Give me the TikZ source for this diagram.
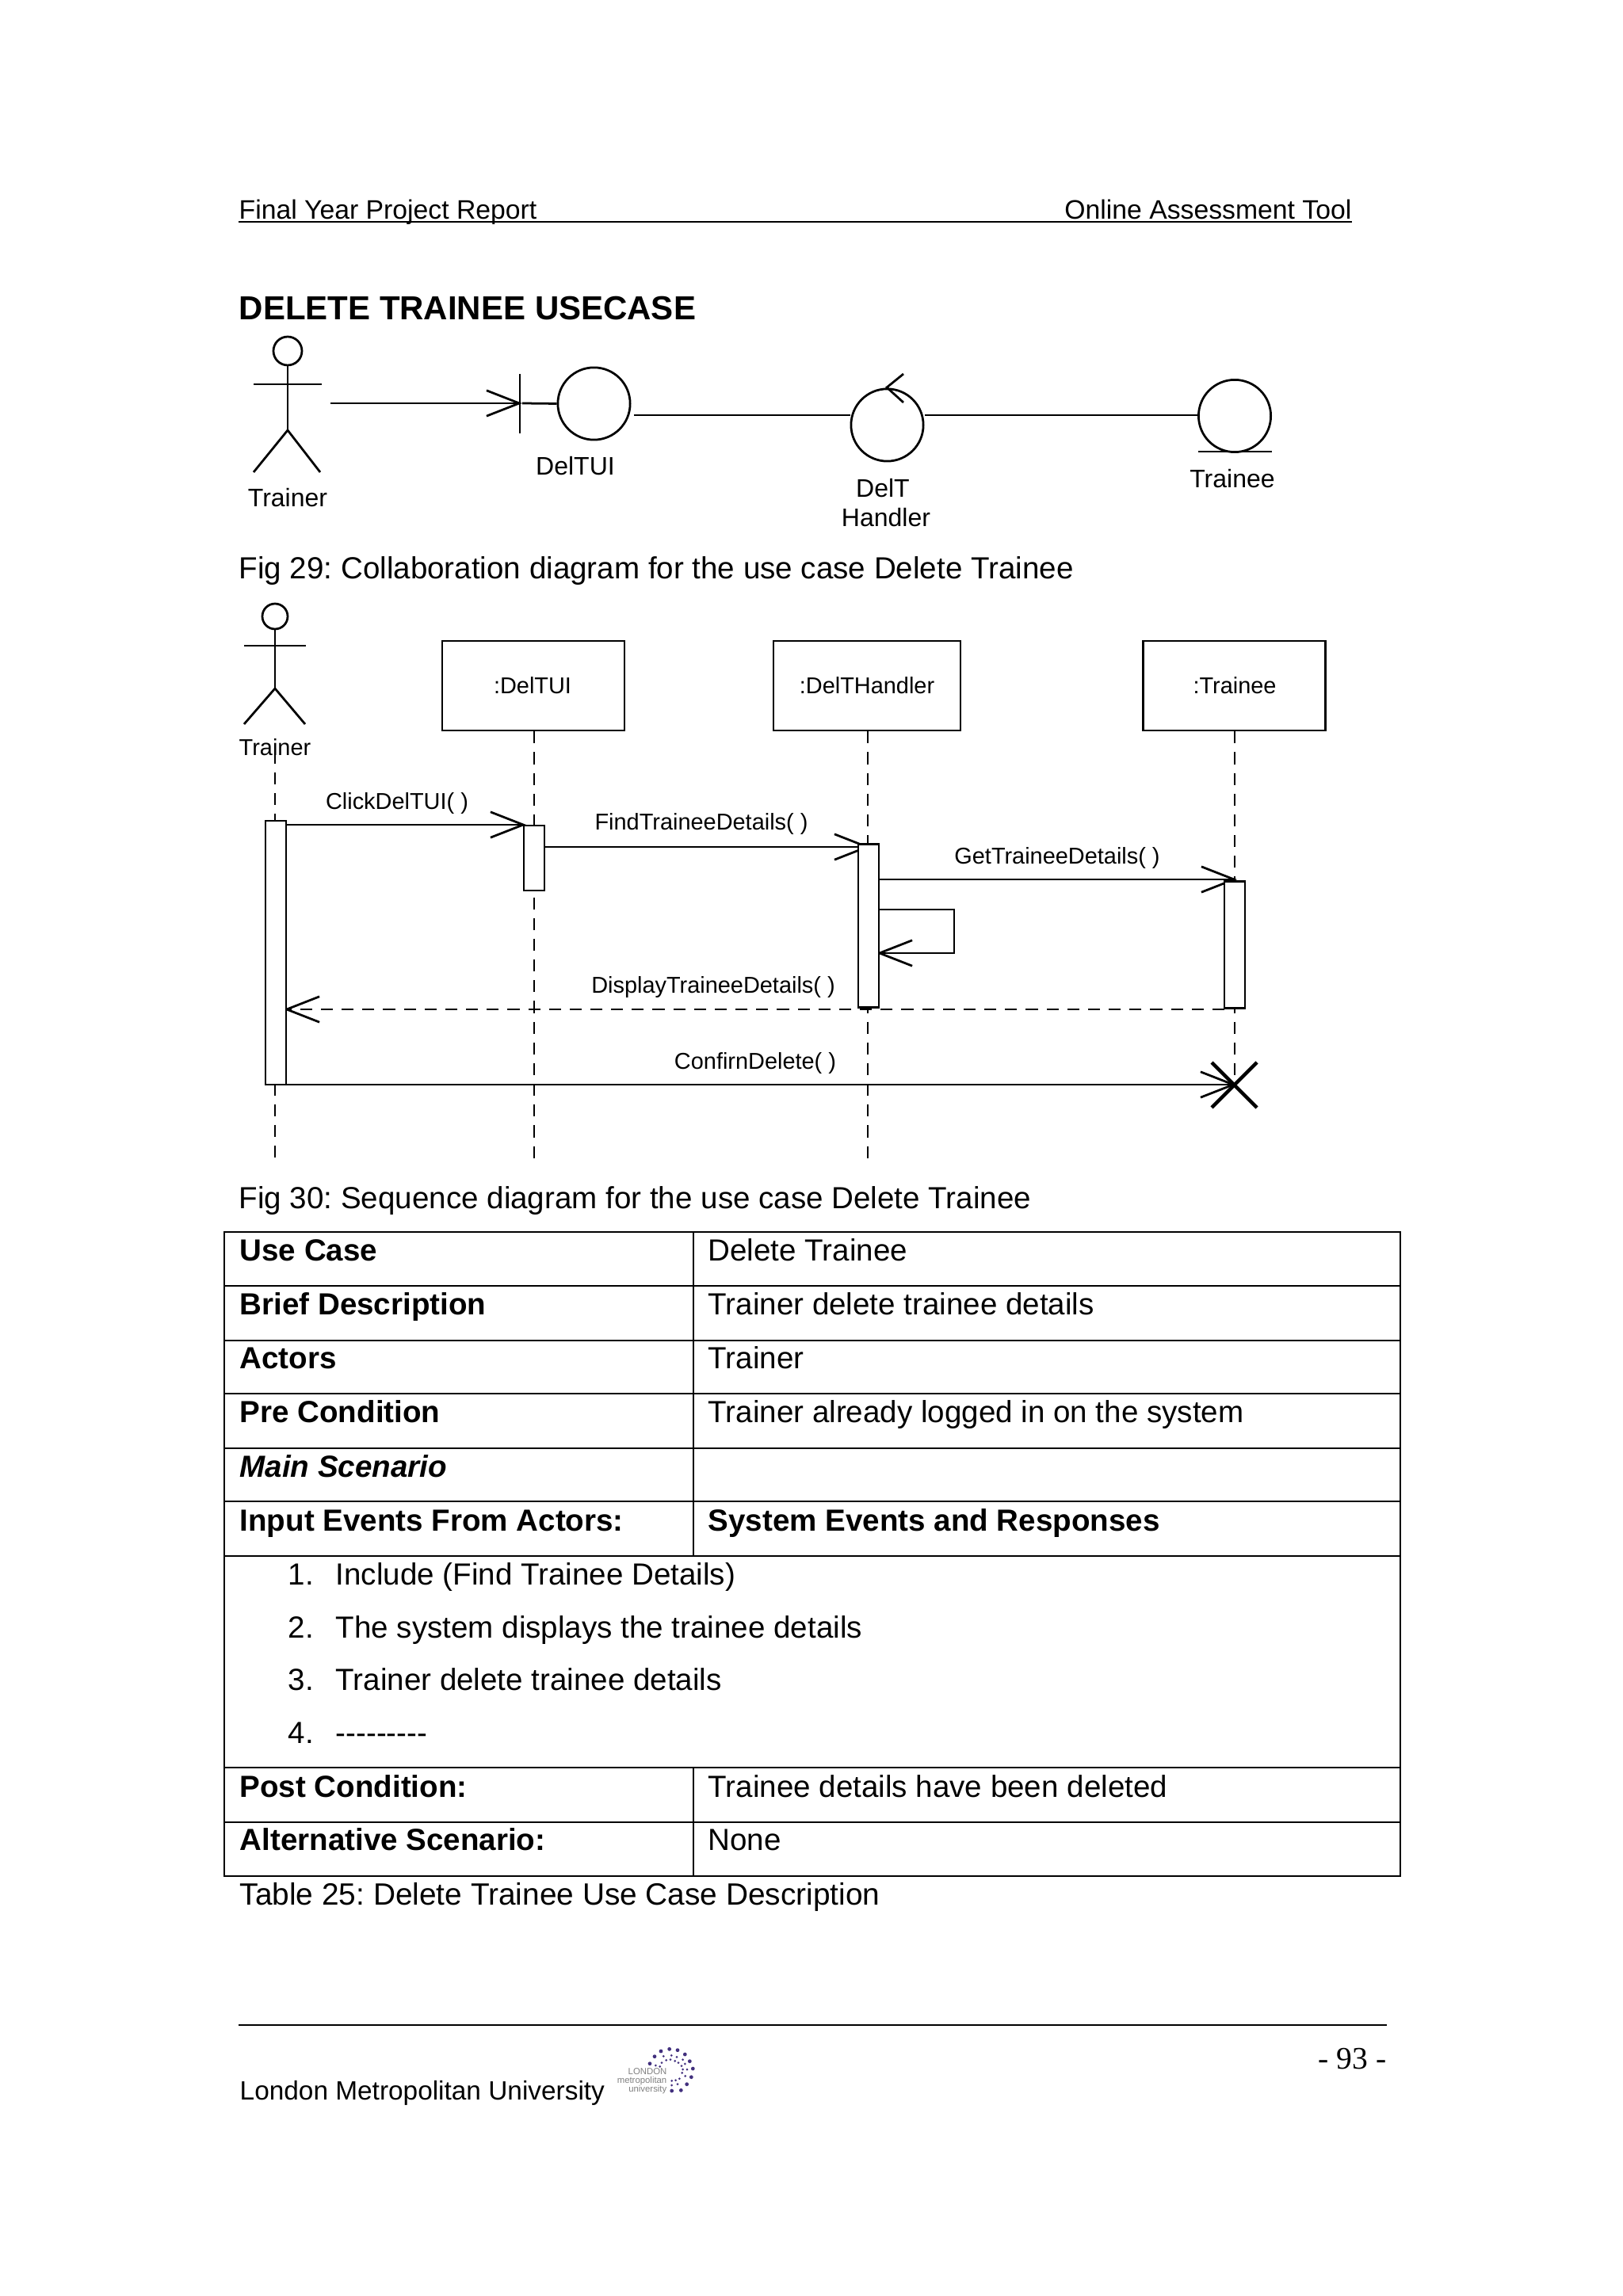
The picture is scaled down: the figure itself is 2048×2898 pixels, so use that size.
\documentclass[tikz,border=0pt]{standalone}
\usepackage{fontspec}
\setmainfont{Liberation Sans}
\newfontfamily\pagefont{Liberation Serif}
\usetikzlibrary{arrows.meta}
\frenchspacing

\definecolor{logodot}{HTML}{42307E}
\definecolor{logotext}{HTML}{808080}

\tikzset{
  >={Straight Barb[length=12pt,width=9.4pt]},
  line/.style={line width=0.8pt},
  lifeline/.style={line width=0.8pt,dash pattern=on 4.4pt off 3.2pt},
  objbox/.style={draw,line width=0.8pt,minimum width=66.8pt,minimum height=32.8pt,inner sep=0pt},
  actbox/.style={draw,fill=white,line width=0.8pt,minimum width=7.5pt,inner sep=0pt},
  ctrl/.style={draw,circle,line width=0.8pt,minimum size=26.5pt,inner sep=0pt},
  body/.style={font=\fontsize{11.2}{14}\selectfont,anchor=base west,inner sep=0pt},
  bold/.style={body,font=\fontsize{11.2}{14}\selectfont\bfseries},
  small/.style={font=\fontsize{9.8}{12}\selectfont,inner sep=0pt},
  umlname/.style={font=\fontsize{9.3}{11}\selectfont,anchor=base,inner sep=0pt},
  msg/.style={font=\fontsize{8.4}{10}\selectfont,anchor=base,inner sep=0pt},
  logoname/.style={font=\fontsize{3.3}{4}\selectfont,text=logotext,anchor=base east,inner sep=0pt}
}

\begin{document}
\begin{tikzpicture}[x=0.2905pt,y=-0.2905pt]
  \useasboundingbox (0,0) rectangle (2048,2898);

  % Page header
  \node[small,anchor=base west] (headl) at (301,277) {Final Year Project Report};
  \node[small,anchor=base east] (headr) at (1706,277) {Online Assessment Tool};
  \draw[line] (301,280) -- (1706,280);
  \node[anchor=base west,inner sep=0pt,font=\fontsize{12.2}{16}\selectfont\bfseries] (title) at (301,404) {DELETE TRAINEE USECASE};

  % Collaboration diagram: actor
  \draw[line] (363,443) circle (18);
  \draw[line] (363,461) -- (363,543);
  \draw[line] (320,485) -- (406,485);
  \draw[line] (320,596) -- (363,543) -- (404,596);
  \node[umlname] (lblactor) at (363,640) {Trainer};

  % Collaboration diagram: objects
  \node[ctrl] (ui) at (749.5,509.5) {};
  \node[ctrl] (handler) at (1119.5,536.5) {};
  \node[ctrl] (ent) at (1558,525) {};
  \coordinate (start) at (417,509);
  \coordinate (bar) at (659,509);
  \coordinate (uiout) at (800,524);
  \draw[line] (656,472) -- (656,547);
  \draw[line] (1140,472) -- (1119,489) -- (1140,508);
  \draw[line] (1512,570) -- (1605,570);

  % Collaboration diagram: links
  \draw[line,->] (start) -- (bar);
  \draw[line] (bar) -- (ui.west);
  \draw[line] (uiout) -- (uiout -| handler.west);
  \draw[line] (handler.east |- uiout) -- (uiout -| ent.west);

  \node[umlname] (lblui) at (726,600) {DelTUI};
  \node[umlname] (lblh1) at (1114,628) {DelT};
  \node[umlname] (lblh2) at (1118,665) {Handler};
  \node[umlname] (lblent) at (1555,616) {Trainee};

  \node[body] (fig29) at (301,731) {Fig 29: Collaboration diagram for the use case Delete Trainee};

  % Sequence diagram: actor
  \draw[line] (347,778) circle (16);
  \draw[line] (347,794) -- (347,869);
  \draw[line] (308,815) -- (386,815);
  \draw[line] (308,914) -- (347,869) -- (385,914);
  \node[msg] (seqactor) at (347,954) {Trainer};

  % Sequence diagram: objects
  \node[objbox] (oui) at (673,865.5) {};
  \node[objbox,minimum width=68.6pt] (ohandler) at (1094,865.5) {};
  \node[objbox] (oent) at (1557.5,865.5) {};
  \node[msg] at (672,876) {:DelTUI};
  \node[msg] at (1094,876) {:DelTHandler};
  \node[msg] at (1558,876) {:Trainee};

  % Sequence diagram: lifelines
  \coordinate (a0) at (347,949);
  \coordinate (a1) at (347,1466);
  \coordinate (b1) at (674,1466);
  \coordinate (c1) at (1095,1466);
  \coordinate (d1) at (1558,1369);
  \draw[lifeline] (a0) -- (a1);
  \draw[lifeline] (oui.south -| b1) -- (b1);
  \draw[lifeline] (ohandler.south -| c1) -- (c1);
  \draw[lifeline] (oent.south -| d1) -- (d1);

  % Sequence diagram: messages
  \coordinate (m1a) at (361,1041);
  \coordinate (m1b) at (664,1041);
  \coordinate (m2a) at (687,1069);
  \coordinate (m2b) at (1098,1069);
  \coordinate (m3a) at (1109,1110);
  \coordinate (m3b) at (1561,1110);
  \coordinate (m4a) at (1109,1148);
  \coordinate (m4b) at (1204,1148);
  \coordinate (m4c) at (1204,1203);
  \coordinate (m4d) at (1106,1203);
  \coordinate (m5a) at (1545,1274);
  \coordinate (m5b) at (358,1274);
  \coordinate (m6a) at (361,1369);
  \coordinate (m6b) at (1560,1369);
  \draw[line,->] (m1a) -- (m1b);
  \draw[line,->] (m2a) -- (m2b);
  \draw[line,->] (m3a) -- (m3b);
  \draw[line,->] (m4a) -- (m4b) -- (m4c) -- (m4d);
  \draw[lifeline,->] (m5a) -- (m5b);
  \draw[line,->] (m6a) -- (m6b);

  % Sequence diagram: activation bars
  \node[actbox,minimum height=96.7pt] (act1) at (348,1202.5) {};
  \node[actbox,minimum height=23.8pt] (act2) at (674,1083) {};
  \node[actbox,minimum height=60pt] (act3) at (1096,1168.5) {};
  \node[actbox,minimum height=46.3pt] (act4) at (1558,1192.5) {};

  % Destruction mark
  \draw[line width=1.3pt] (1529,1341) -- (1586,1398);
  \draw[line width=1.3pt] (1529,1398) -- (1586,1341);

  \node[msg] at (501,1021.5) {ClickDelTUI( )};
  \node[msg] at (885,1047.5) {FindTraineeDetails( )};
  \node[msg] at (1334,1090.5) {GetTraineeDetails( )};
  \node[msg] at (900,1253.5) {DisplayTraineeDetails( )};
  \node[msg] at (953,1349.5) {ConfirnDelete( )};

  \node[body] (fig30) at (301,1525) {Fig 30: Sequence diagram for the use case Delete Trainee};

  % Table rules
  \draw[line] (283,1555) rectangle (1767,2368);
  \foreach \y in {1623,1692,1759,1828,1895,1964,2231,2300}
    \draw[line] (283,\y) -- (1767,\y);
  \draw[line width=0.6pt] (875,1555) -- (875,1964);
  \draw[line width=0.6pt] (875,2231) -- (875,2368);

  % Table text
  \node[bold] (t1) at (302,1591) {Use Case};
  \node[body] (v1) at (893,1591) {Delete Trainee};
  \node[bold] (t2) at (302,1659) {Brief Description};
  \node[body] (v2) at (893,1659) {Trainer delete trainee details};
  \node[bold] (t3) at (302,1727) {Actors};
  \node[body] (v3) at (893,1727) {Trainer};
  \node[bold] (t4) at (302,1795) {Pre Condition};
  \node[body] (v4) at (893,1795) {Trainer already logged in on the system};
  \node[bold,font=\fontsize{11.2}{14}\selectfont\bfseries\itshape] (t5) at (302,1864) {Main Scenario};
  \node[bold] (t6) at (302,1932) {Input Events From Actors:};
  \node[bold] (v6) at (893,1932) {System Events and Responses};
  \foreach \n/\y/\s in {1/2000/Include (Find Trainee Details),2/2067/The system displays the trainee details,3/2133/Trainer delete trainee details,4/2200/{-}{-}{-}{-}{-}{-}{-}{-}{-}}
  {
    \node[body] (num\n) at (363,\y) {\n.};
    \node[body] (step\n) at (423,\y) {\s};
  }
  \node[bold] (t7) at (302,2268) {Post Condition:};
  \node[body] (v7) at (893,2268) {Trainee details have been deleted};
  \node[bold] (t8) at (302,2335) {Alternative Scenario:};
  \node[body] (v8) at (893,2335) {None};
  \node[body,font=\fontsize{11.28}{14}\selectfont] (tab25) at (302,2404) {Table 25: Delete Trainee Use Case Description};

  % Page footer
  \draw[line] (301,2556) -- (1750,2556);
  \node[inner sep=0pt,anchor=base east,font=\pagefont\fontsize{11.5}{14}\selectfont] (pageno) at (1750,2611) {- 93 -};
  \node[small,anchor=base west,font=\fontsize{9.7}{12}\selectfont] (univ) at (302,2650) {London Metropolitan University};

  % Logo
  \node[logoname] (logo1) at (842,2618) {LONDON};
  \node[logoname] (logo2) at (842,2629) {metropolitan};
  \node[logoname] (logo3) at (842,2640) {university};
  \foreach \p/\q in {192/18,224/10,255/14,283/30,301/56,313/84,307/116,290/143,268/166,168/38,150/65,233/168}
    \fill[logodot] (770+\p/3,2583+\q/3) circle (2.4);
  \foreach \p/\q in {202/37,232/34,252/40,275/50,283/66,291/87,284/112,262/122,255/143,233/147,172/72,188/76,195/62,212/52,228/50,245/55,258/62,270/74,275/87,272/100,248/128,233/130}
    \fill[logodot] (770+\p/3,2583+\q/3) circle (1.5);
\end{tikzpicture}
\end{document}
